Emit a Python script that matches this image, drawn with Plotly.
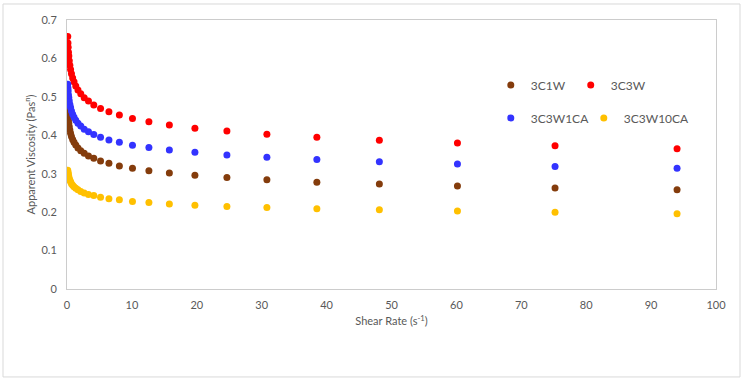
import plotly.graph_objects as go

# Shear rate (1/s), descending as measured
shear_rate = [94.0, 75.2, 60.16, 48.13, 38.5, 30.8, 24.64, 19.71, 15.77, 12.62,
              10.09, 8.07, 6.46, 5.17, 4.13, 3.31, 2.65, 2.12, 1.69, 1.35,
              1.08, 0.87, 0.69, 0.55, 0.44, 0.35, 0.28, 0.23, 0.18, 0.15, 0.116]

visc_3C1W = [0.258, 0.263, 0.268, 0.273, 0.278, 0.284, 0.290, 0.296, 0.302, 0.308,
             0.314, 0.320, 0.327, 0.333, 0.340, 0.346, 0.353, 0.360, 0.367, 0.375,
             0.382, 0.389, 0.397, 0.405, 0.414, 0.422, 0.430, 0.438, 0.447, 0.455, 0.465]

visc_3C3W = [0.365, 0.373, 0.380, 0.387, 0.395, 0.403, 0.411, 0.418, 0.427, 0.435,
             0.444, 0.453, 0.461, 0.470, 0.479, 0.489, 0.498, 0.508, 0.518, 0.528,
             0.539, 0.549, 0.560, 0.571, 0.582, 0.594, 0.606, 0.616, 0.629, 0.640, 0.657]

visc_3C3W1CA = [0.314, 0.319, 0.325, 0.331, 0.337, 0.343, 0.349, 0.356, 0.362, 0.368,
                0.374, 0.382, 0.388, 0.395, 0.402, 0.409, 0.416, 0.424, 0.431, 0.439,
                0.447, 0.455, 0.463, 0.472, 0.480, 0.489, 0.498, 0.505, 0.515, 0.523, 0.533]

visc_3C3W10CA = [0.196, 0.200, 0.203, 0.206, 0.209, 0.212, 0.215, 0.218, 0.221, 0.225,
                 0.228, 0.232, 0.235, 0.239, 0.243, 0.246, 0.250, 0.254, 0.258, 0.262,
                 0.266, 0.270, 0.274, 0.279, 0.283, 0.287, 0.292, 0.296, 0.301, 0.304, 0.309]

series_names = ["3C1W", "3C3W", "3C3W1CA", "3C3W10CA"]
series_values = [visc_3C1W, visc_3C3W, visc_3C3W1CA, visc_3C3W10CA]
series_colors = ["#843C0C", "#FF0000", "#3333FF", "#FFC000"]
series_legend = ["legend", "legend", "legend2", "legend2"]
series_legendwidth = [None, None, 48, 70]

x_ticks = [0, 10, 20, 30, 40, 50, 60, 70, 80, 90, 100]
y_ticks = [0, 0.1, 0.2, 0.3, 0.4, 0.5, 0.6, 0.7]

FONT = "Lato, 'Open Sans', sans-serif"
GRAY = "#595959"

fig = go.Figure()
for name, vals, col, lg, lw in zip(series_names, series_values, series_colors,
                                   series_legend, series_legendwidth):
    tr = go.Scatter(
        x=shear_rate, y=vals, mode="markers", name=name,
        marker=dict(size=7, color=col, line=dict(width=0)),
        legend=lg,
    )
    if lw is not None:
        tr.legendwidth = lw
    fig.add_trace(tr)

axis_common = dict(
    showgrid=False, zeroline=False, ticks="", showline=True, mirror=True,
    linecolor="#cccccc", linewidth=1,
    tickfont=dict(family=FONT, size=11, color=GRAY),
)

fig.update_layout(
    width=745, height=383,
    margin=dict(l=67, r=29, t=20, b=94),
    paper_bgcolor="white", plot_bgcolor="white",
    font=dict(family=FONT, color=GRAY),
    xaxis=dict(range=[0, 100], tickvals=x_ticks, ticktext=[str(v) for v in x_ticks],
               ticklabelstandoff=6,
               title=dict(text="Shear Rate (s<sup>-1</sup>)", font=dict(family=FONT, size=11, color=GRAY),
                          standoff=7),
               **axis_common),
    yaxis=dict(range=[0, 0.7], tickvals=y_ticks, ticktext=[("%g" % v) for v in y_ticks],
               ticklabelstandoff=7,
               title=dict(text="Apparent Viscosity (Pas<sup>n</sup>)", font=dict(family=FONT, size=11, color=GRAY),
                          standoff=3),
               **axis_common),
    legend=dict(orientation="h", x=0.653, y=0.758, xanchor="left", yanchor="middle",
                bgcolor="rgba(0,0,0,0)", font=dict(family=FONT, size=12, color=GRAY),
                itemwidth=30, tracegroupgap=0),
    legend2=dict(orientation="h", x=0.653, y=0.636, xanchor="left", yanchor="middle",
                 bgcolor="rgba(0,0,0,0)", font=dict(family=FONT, size=12, color=GRAY),
                 itemwidth=30, tracegroupgap=0),
    shapes=[dict(type="rect", xref="paper", yref="paper",
                 x0=-0.0986, x1=1.037, y0=-0.327, y1=1.0595,
                 line=dict(color="#d9d9d9", width=1), fillcolor="rgba(0,0,0,0)", layer="below")],
)

fig.write_html("out.html", config={"displayModeBar": False},
               post_script="document.body.style.margin='0';")
